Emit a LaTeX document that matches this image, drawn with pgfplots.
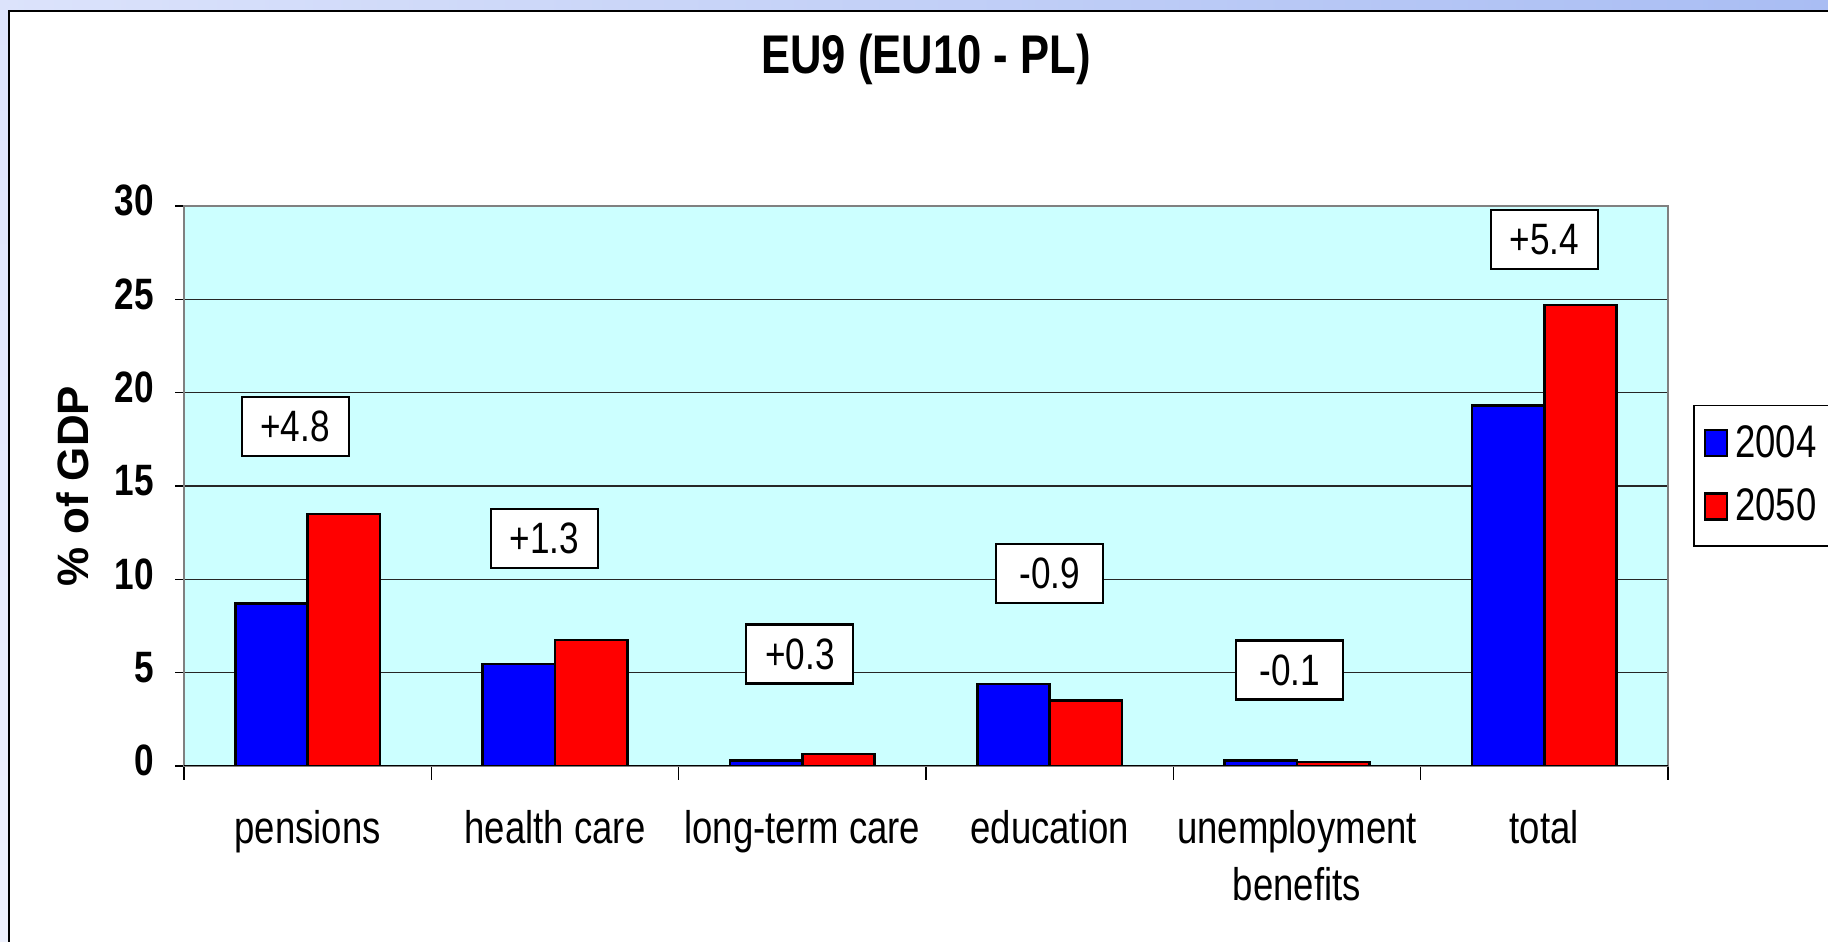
\documentclass[border=0pt]{standalone}
\usepackage{fontspec}
\setmainfont{Liberation Sans}
\newfontfamily\narrowfont[FakeStretch=0.8]{Liberation Sans}
\usepackage{pgfplots}
\pgfplotsset{compat=1.18}
\definecolor{plotbg}{HTML}{CCFFFF}
\definecolor{bar04}{HTML}{0000FF}
\definecolor{bar50}{HTML}{FF0000}
\definecolor{frameA}{HTML}{DCE3FB}
\definecolor{frameB}{HTML}{A9BDF3}
\definecolor{frameC}{HTML}{EEF1FD}

% spending in % of GDP, 2004 vs 2050
\pgfplotstableread{
x y04 y50
0 8.7 13.5
1 5.45 6.75
2 0.3 0.65
3 4.4 3.5
4 0.3 0.2
5 19.3 24.7
}\spending

\begin{document}
\begin{tikzpicture}[
  diffbox/.style={draw=black, fill=white, line width=0.6pt,
    minimum width=1.07cm, minimum height=0.59cm, inner sep=0pt,
    font=\narrowfont\fontsize{12.5}{14}\selectfont}]
\useasboundingbox (0,0) rectangle (18.28,9.42);
\shade[left color=frameA, right color=frameB] (0,9.31) rectangle (18.28,9.42);
\shade[top color=frameA, bottom color=frameC] (0,0) rectangle (0.09,9.31);
\fill[white] (0.09,-0.5) rectangle (18.5,9.31);
\draw[black, line width=0.4pt] (0.09,-0.5) -- (0.09,9.31) -- (18.5,9.31);
\begin{axis}[
  at={(1.84cm,1.76cm)}, anchor=south west,
  scale only axis, width=14.84cm, height=5.6cm,
  xmin=-0.5, xmax=5.5, ymin=0, ymax=30,
  ybar=0pt, bar width=0.723cm,
  axis background/.style={fill=plotbg},
  axis line style={draw=gray, line width=0.5pt},
  ytick={0,5,...,30}, ymajorgrids,
  grid style={black!85, line width=0.4pt},
  xtick={-1,0,...,6},
  xticklabels={,pensions,health care,long-term care,education,{unemployment\\benefits},total,},
  minor x tick num=1, major x tick style={draw=none},
  tick pos=left,
  tick align=outside, major tick length=0.09cm, minor tick length=0.14cm,
  tick style={black, line width=0.4pt},
  typeset ticklabels with strut,
  /pgf/number format/assume math mode=true,
  xticklabel style={font=\narrowfont\fontsize{13}{16}\selectfont, align=center, yshift=-0.17cm},
  yticklabel style={font=\narrowfont\bfseries\fontsize{12.5}{14}\selectfont, xshift=-0.09cm},
  ylabel={\% of GDP},
  ylabel style={at={(axis description cs:-0.0751,0.5)}, anchor=center,
    font=\bfseries\fontsize{12.5}{15}\selectfont},
  title={EU9 (EU10 - PL)},
  title style={at={(0.5,1)}, anchor=base, yshift=1.11cm,
    font=\narrowfont\bfseries\fontsize{15.5}{18}\selectfont},
  legend style={at={(1.0169,0.645)}, anchor=north west, draw=black, fill=white,
    line width=0.4pt, font=\narrowfont\fontsize{13}{15}\selectfont,
    row sep=0.12cm, inner xsep=0.1cm, inner ysep=0.13cm},
  legend image code/.code={\draw[#1] (0cm,-0.12cm) rectangle (0.22cm,0.14cm);},
]
\addplot[fill=bar04, draw=black, line width=0.7pt] table[x=x, y=y04] {\spending};
\addlegendentry{2004}
\addplot[fill=bar50, draw=black, line width=0.7pt] table[x=x, y=y50] {\spending};
\addlegendentry{2050}
\draw[black, line width=0.8pt] (rel axis cs:0,0) -- (rel axis cs:1,0);
\node[diffbox] at (axis cs:-0.051,18.2) {+4.8};
\node[diffbox] at (axis cs:0.958,12.2) {+1.3};
\node[diffbox] at (axis cs:1.99,6.0) {+0.3};
\node[diffbox] at (axis cs:3.0,10.3) {-0.9};
\node[diffbox] at (axis cs:3.97,5.14) {-0.1};
\node[diffbox] at (axis cs:5.0,28.2) {+5.4};
\end{axis}
\end{tikzpicture}
\end{document}
